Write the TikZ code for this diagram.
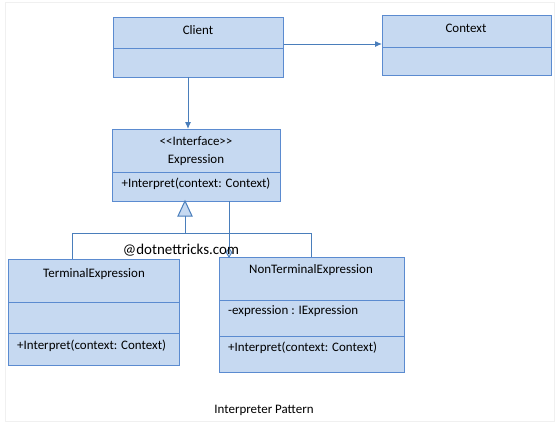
\documentclass[tikz,border=0pt]{standalone}
\usepackage{fontspec}
\setmainfont{Carlito}
\begin{document}
\begin{tikzpicture}[x=1bp,y=-1bp,
  umlbox/.style={draw=boxline, fill=boxfill, line width=1bp, rectangle, anchor=north west, inner sep=0pt},
  divline/.style={draw=boxline, line width=1bp},
  conn/.style={draw=connline, line width=1bp},
  lbl/.style={font=\fontsize{13}{15}\selectfont, text=black, inner sep=0pt},
  lbll/.style={lbl, anchor=west},
  arr/.style={conn, -{Latex[length=7bp,width=6bp]}}
]
\definecolor{boxfill}{HTML}{C6D9F1}
\definecolor{boxline}{HTML}{5B8BD0}
\definecolor{connline}{HTML}{4A7EBB}
\usetikzlibrary{arrows.meta}
\useasboundingbox (0,0) rectangle (559,422);
\draw[draw=black!6, line width=1bp] (5.5,2.5) rectangle (554,421);

% Client
\node[umlbox, minimum width=170bp, minimum height=60bp] (client) at (113,17) {};
\draw[divline] (113,48) -- (283,48);
\node[lbl] (clientname) at (198,30) {Client};

% Context
\node[umlbox, minimum width=169bp, minimum height=60bp] (context) at (382,15) {};
\draw[divline] (382,47) -- (551,47);
\node[lbl] (contextname) at (466,28) {Context};

% Expression
\node[umlbox, minimum width=168bp, minimum height=72bp] (expr) at (112,129) {};
\draw[divline] (112,172) -- (280,172);
\node[lbl] (exprstereo) at (196,141) {<\kern0pt<Interface>\kern0pt>};
\node[lbl] (exprname) at (196,160) {Expression};
\node[lbl] (exprop) at (196,184) {+Interpret(context: Context)};

% TerminalExpression
\node[umlbox, minimum width=171bp, minimum height=106bp] (term) at (8,259) {};
\draw[divline] (8,302) -- (179,302);
\draw[divline] (8,333) -- (179,333);
\node[lbl] (termname) at (94,274) {TerminalExpression};
\node[lbll] (termop) at (17,346) {+Interpret(context: Context)};

% NonTerminalExpression
\node[umlbox, minimum width=185bp, minimum height=115bp] (nonterm) at (219,257) {};
\draw[divline] (219,300) -- (404,300);
\draw[divline] (219,336) -- (404,336);
\node[lbl] (ntname) at (311,270) {NonTerminalExpression};
\node[lbll] (ntattr) at (228,311) {-expression : IExpression};
\node[lbll] (ntop) at (228,348) {+Interpret(context: Context)};

% connectors
\coordinate (c1) at (284,44);
\draw[arr] (c1) -- (context.west |- c1);
\coordinate (c2) at (188,77);
\draw[arr] (c2) -- (c2 |- expr.north);

% generalization
\coordinate (tri) at (185,201);
\coordinate (trib) at (185,216);
\coordinate (junc) at (185,233);
\coordinate (jl) at (72,233);
\coordinate (jr) at (311,233);
\draw[conn] (trib) -- (junc);
\draw[conn] (jl) -- (jr);
\draw[conn] (jl) -- (jl |- term.north);
\draw[conn] (jr) -- (jr |- nonterm.north);
\filldraw[draw=connline, fill=boxfill, line width=1bp] (tri) -- (192,216) -- (178,216) -- cycle;

% aggregation
\coordinate (ag) at (229,201);
\coordinate (agd) at (229,248);
\draw[conn] (ag) -- (agd);
\filldraw[draw=connline, fill=boxfill, line width=0.8bp] (agd) -- (231.8,252.5) -- (229,257) -- (226.2,252.5) -- cycle;

% watermark and caption
\node[font=\fontsize{15}{17}\selectfont, inner sep=0pt] (wm) at (181,250) {@dotnettricks.com};
\node[lbl] (caption) at (264,410) {Interpreter Pattern};
\end{tikzpicture}
\end{document}
